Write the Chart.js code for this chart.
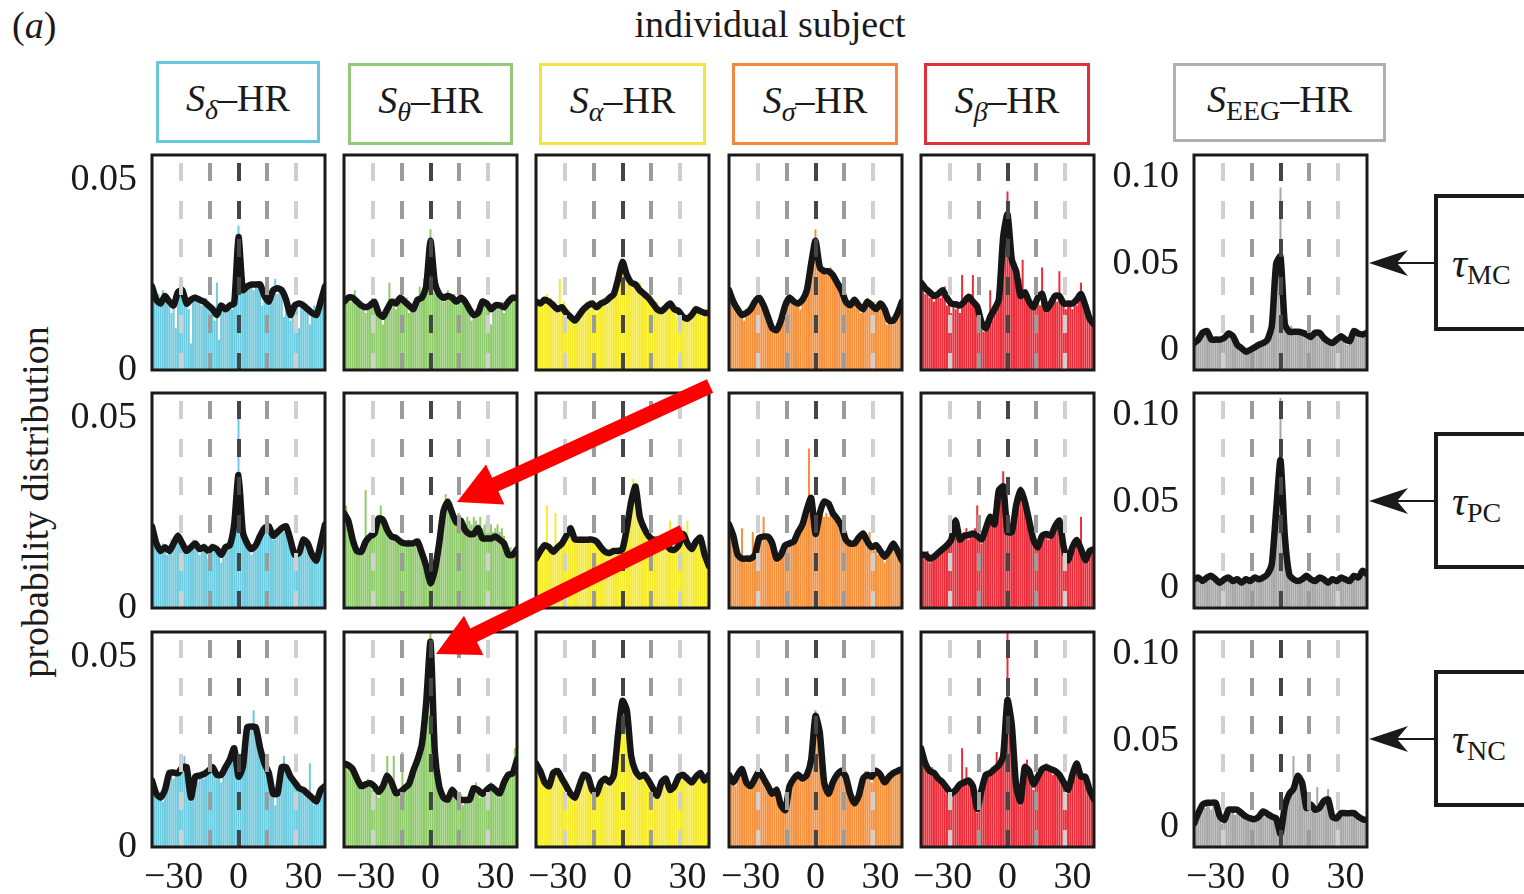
<!DOCTYPE html>
<html><head><meta charset="utf-8">
<script src="https://cdn.jsdelivr.net/npm/chart.js@4.4.0/dist/chart.umd.min.js"></script>
<style>
html,body{margin:0;padding:0;background:#fff;}
body{width:1524px;height:894px;position:relative;overflow:hidden;font-family:'Liberation Serif','Times New Roman',serif;color:#1a1a1a;}
.abs{position:absolute;}
.hbox{position:absolute;box-sizing:border-box;border:3px solid;display:flex;align-items:center;justify-content:center;font-size:38px;line-height:1;padding-bottom:8px;}
.hbox .sub{font-size:28px;position:relative;top:12px;}
.it{font-style:italic;}
.tbox{position:absolute;box-sizing:border-box;border:4px solid #1a1a1a;left:1434px;width:120px;height:137px;font-size:42px;line-height:1;display:flex;align-items:center;padding-left:14px;}
.tbox .sub{font-size:28px;position:relative;top:12px;}
.panel{position:absolute;width:273px;height:270px;}
</style>
</head><body>
<div class="abs" style="left:12px;top:3px;font-size:38px;">(<span class="it">a</span>)</div>
<div class="abs" style="left:570px;top:2px;width:400px;text-align:center;font-size:38px;">individual subject</div>
<div class="abs" style="left:-165px;top:480px;width:400px;height:44px;line-height:44px;text-align:center;font-size:38px;transform:rotate(-90deg);">probability distribution</div>

<div class="hbox" style="left:156px;top:61px;width:164px;height:82px;border-color:#67c7dc;"><span class="it">S</span><span class="sub it">δ</span>–HR</div>
<div class="hbox" style="left:348px;top:63px;width:165px;height:82px;border-color:#93c979;"><span class="it">S</span><span class="sub it">θ</span>–HR</div>
<div class="hbox" style="left:539px;top:63px;width:167px;height:82px;border-color:#f3e43f;"><span class="it">S</span><span class="sub it">α</span>–HR</div>
<div class="hbox" style="left:732px;top:63px;width:166px;height:82px;border-color:#f1883c;"><span class="it">S</span><span class="sub it">σ</span>–HR</div>
<div class="hbox" style="left:924px;top:63px;width:166px;height:82px;border-color:#e2303a;"><span class="it">S</span><span class="sub it">β</span>–HR</div>
<div class="hbox" style="left:1173px;top:63px;width:213px;height:79px;border-color:#b0b0b0;"><span class="it">S</span><span class="sub">EEG</span>–HR</div>

<div class="tbox" style="top:194px;"><span class="it">τ</span><span class="sub">MC</span></div>
<div class="tbox" style="top:432px;"><span class="it">τ</span><span class="sub">PC</span></div>
<div class="tbox" style="top:670px;"><span class="it">τ</span><span class="sub">NC</span></div>

<div id="panels"></div>

<svg class="abs" style="left:0;top:0;z-index:10;pointer-events:none;" width="1524" height="894">
  <g stroke="#1a1a1a" stroke-width="2" fill="#1a1a1a">
    <line x1="1434" y1="263" x2="1395" y2="263"/>
    <path d="M1369,263 L1408,250 L1397,263 L1408,276 Z" stroke="none"/>
    <line x1="1434" y1="501" x2="1395" y2="501"/>
    <path d="M1369,501 L1408,488 L1397,501 L1408,514 Z" stroke="none"/>
    <line x1="1434" y1="739" x2="1395" y2="739"/>
    <path d="M1369,739 L1408,726 L1397,739 L1408,752 Z" stroke="none"/>
  </g>
  <g fill="#ff0000" stroke="#ff0000">
    <line x1="710" y1="386" x2="492" y2="486" stroke-width="15"/>
    <polygon points="457,502 504.4,504.5 486,464.5" stroke="none"/>
    <line x1="683" y1="532" x2="470" y2="637" stroke-width="15"/>
    <polygon points="436,654 483.4,655.1 464,615.7" stroke="none"/>
  </g>
</svg>

<script>
// ---------- axis values ----------
const LAGS = [-40,-39,-38,-37,-36,-35,-34,-33,-32,-31,-30,-29,-28,-27,-26,-25,-24,-23,-22,-21,-20,-19,-18,-17,-16,-15,-14,-13,-12,-11,-10,-9,-8,-7,-6,-5,-4,-3,-2,-1,0,1,2,3,4,5,6,7,8,9,10,11,12,13,14,15,16,17,18,19,20,21,22,23,24,25,26,27,28,29,30,31,32,33,34,35,36,37,38,39,40];
const LINE_LAGS = [-40,-38,-36,-34,-32,-30,-28,-26,-24,-22,-20,-18,-16,-14,-12,-10,-8,-6,-4,-2,0,2,4,6,8,10,12,14,16,18,20,22,24,26,28,30,32,34,36,38,40];
const X_TICKS = [-30, 0, 30];
const MARKER_LAGS = [-26.7, -13.3, 0, 13.3, 26.7];
const Y_TICKS_BAND = [0, 0.05];
const Y_TICKS_EEG = [0, 0.05, 0.10];
const Y_RANGE_BAND = [0, 0.0566];
const Y_RANGE_EEG = [-0.0116, 0.1128];
const UNIT = 0.001; // values below are in units of 1e-3
const BANDS = ['δ','θ','α','σ','β','EEG'];
const CONDITIONS = ['MC','PC','NC'];

// ---------- row MC ----------
const BARS_DELTA_MC = [23,19,18,20,17,21,19,20,18,15,17,11,21,22,20,19,17,16,7,18,20,18,19,17,18,19,17,16,15,13,23,8,17,16,16,17,18,16,18,30,38,25,20,22,21,23,22,21,23,22,23,17,19,18,17,19,21,24,20,22,21,14,18,17,13,16,17,18,11,17,18,16,16,12,15,17,14,16,19,21,24];
const LINE_DELTA_MC = [22,18.5,17.5,19.5,18,17,20.5,21,17.5,18.5,19,18.5,18,17,16,14.5,17,16,17,17.5,35,21,22,22.5,22.5,22.5,19.5,18,21,21.5,21,18.5,14.5,17,17.5,17,16,15,14.5,18,22];
const BARS_THETA_MC = [19,18,20,18,19,21,17,18,16,17,15,17,16,19,18,16,14,15,12,15,17,23,18,19,16,18,20,18,17,19,15,17,16,18,19,22,20,24,23,30,37,26,22,20,21,19,18,20,21,19,18,20,17,19,20,18,17,16,15,13,14,16,15,17,19,18,16,17,12,16,18,17,16,18,15,17,19,18,20,19,21];
const LINE_THETA_MC = [18,19,19,18,17,16.5,17,18,15,14,16,18,17.5,19,18,17,16,18.5,19,22,34,23,20,19,19.5,19,18,19,18,16,14.5,15,18,17.5,16,17,17,16.5,18,19,19];
const BARS_ALPHA_MC = [19,18,17,19,18,20,17,19,16,18,15,24,16,18,14,16,13,14,12,15,14,16,15,18,17,16,18,17,15,18,17,19,18,17,20,19,21,22,25,27,29,26,24,25,22,23,22,21,23,20,21,19,18,20,17,16,18,15,16,15,17,16,18,17,16,14,16,15,13,14,13,15,14,16,17,15,16,14,15,16,29];
const LINE_ALPHA_MC = [18,17.5,18.5,18,17,16,16.5,15,14,13,14.5,16,17,17.5,16.5,17.5,18,19,20,24,28.5,25,23,22.5,21,20,19,17.5,16,15.5,16.5,17.5,16,15.5,14,13.5,14.5,16,15.5,15,15];
const BARS_SIGMA_MC = [22,20,18,17,16,14,15,13,16,15,17,18,19,20,18,19,17,15,14,12,10,11,10,12,14,16,18,19,20,18,19,17,18,16,19,20,22,24,29,31,37,29,27,26,27,25,26,27,25,24,23,22,21,19,18,17,16,18,19,18,17,15,16,17,19,17,16,18,15,17,18,16,15,12,13,14,12,15,16,17,21];
const LINE_SIGMA_MC = [21,18,16,14.5,15,16,18,19,17,14,11,10.5,13,17,19,18,17.5,18.5,21,28,34,27,26,26,25,23,21,18,17,18.5,17,16,18,17,16,17.5,16,13,13,15,18];
const BARS_BETA_MC = [24,22,20,21,19,20,18,19,21,19,20,22,17,18,15,17,16,18,15,25,17,18,19,20,25,17,15,14,12,10,11,13,21,14,16,17,20,27,33,40,47,35,28,26,25,22,24,29,20,19,18,17,16,18,19,17,27,16,15,16,17,18,19,18,26,18,17,16,18,17,16,18,17,19,23,18,16,14,13,12,13];
const LINE_BETA_MC = [23,21.5,20.5,19.5,20,21,19,17.5,17.3,17,18,19.3,18,16.7,12.5,11,14,16,18.5,35,41,29,26,19.5,20.5,18,16.5,19,20,16,17.5,19.5,19.5,17.5,17.5,17.5,18.5,20,17,13.5,12];
const BARS_EEG_MC = [4,5,5,7,9,10,9,7,5,6,5,6,5,7,6,8,9,8,7,5,3,2,1,0,-1,0,-1,1,1,2,3,2,4,5,6,8,12,20,50,56,94,30,12,11,10,14,9,11,10,9,10,8,9,6,7,8,9,10,9,7,6,5,4,3,4,5,6,7,8,6,5,3,5,8,10,9,8,7,8,9,9];
const LINE_EEG_MC = [4,6,10,11,6,6,6,7,9.5,8,3,1,-1,0,1.5,3,4,6,14,50,54,15,10.5,10.5,10.5,10,9,7.5,10,10,7,5,4,6,8,6,5,11,9.5,9,10];

// ---------- row PC ----------
const BARS_DELTA_PC = [22,20,17,16,15,17,16,14,15,18,17,19,20,18,16,17,14,16,15,18,17,16,14,15,17,16,13,15,17,16,15,14,12,15,16,17,16,19,24,30,50,25,19,18,16,15,14,16,17,18,20,21,22,20,21,22,18,19,20,21,22,20,21,19,17,15,13,14,15,17,18,17,16,15,13,12,13,15,17,20,22];
const LINE_DELTA_PC = [21.5,17,15,16,15,17,19,17,15,16,17,15.5,16,15,16,15.5,14,16,16.5,22,35,20,17,15.5,16.5,19,21,21.5,19,20,21,21.5,18,14,14.5,18,17,14,12.5,17,22];
const BARS_THETA_PC = [26,27,24,22,19,16,15,14,16,17,31,19,20,18,19,21,24,27,23,22,21,20,19,18,19,18,17,18,16,17,18,16,17,18,17,15,14,12,10,8,6,9,11,15,19,24,27,30,28,26,25,24,23,25,24,23,22,24,23,22,24,23,22,24,21,22,23,21,22,20,21,22,20,21,19,17,15,16,15,14,25];
const LINE_THETA_PC = [25,23,18,15,14.8,17.5,18.8,19.5,23.6,23.2,20.5,18.8,18.5,17.5,17,17,17,17.5,14.5,11,6.5,10,17,25.5,28,25,22.5,23,20.5,19.5,19.5,21,18.3,18.3,18.3,18.8,18,17,14,14,15.5];
const BARS_ALPHA_PC = [14,15,16,15,17,27,16,15,14,25,16,17,18,17,19,20,22,20,18,17,18,19,18,17,18,19,18,17,18,16,15,16,14,15,14,16,15,14,15,16,17,18,22,26,29,34,31,27,24,22,21,20,19,18,19,18,17,19,18,17,16,17,23,16,15,17,23,18,20,19,23,16,15,17,18,19,18,16,14,12,30];
const LINE_ALPHA_PC = [13,15,16.5,16,14.8,16,17,19,21,18,18,18,18,18,17.5,16,14.8,14.5,15,15,15.5,21,28,32,24,21,19,18,18,18,17,15.5,15.3,16.5,19.5,17,15.5,17.5,18.5,14,11];
const BARS_SIGMA_PC = [30,22,19,17,15,14,21,13,12,14,13,20,14,17,19,18,24,18,19,17,16,14,12,13,14,15,16,17,18,17,19,18,20,21,23,24,26,42,28,24,19,22,24,25,24,25,24,25,24,23,22,21,20,19,18,17,18,16,17,18,19,18,19,17,16,20,15,16,15,14,15,13,12,14,15,16,17,15,14,12,23];
const LINE_SIGMA_PC = [22,19,14,13,13,13,14,18.5,18.8,18.8,17,13,14,16.5,17,17.5,20,22,26,29,19.5,25,28,27.5,25,23.5,21.5,18,17,17,18.5,19.6,17.5,16,16.5,15,13.5,15,17,15,12.5];
const BARS_BETA_PC = [15,14,13,15,12,14,13,15,14,16,15,17,16,18,19,22,24,20,18,19,20,21,18,20,19,21,27,18,17,19,21,22,24,23,22,25,30,32,36,28,19,21,20,24,27,30,32,30,27,24,22,20,18,17,16,18,19,20,19,18,20,19,21,22,23,20,16,13,12,14,16,17,18,16,24,14,12,13,15,16,15];
const LINE_BETA_PC = [14,14,13,13.5,14.5,15.5,16.5,18,23,18,19,19.2,19.6,19,18,21,24,22,31,32,20,20,27,31,28,23,18,16,19,19.5,19,21.5,23,16,12.5,16,17.9,15.5,12.6,15,15.5];
const BARS_EEG_PC = [4,5,5,4,3,5,6,5,6,4,4,3,2,4,5,4,5,3,3,4,5,3,2,3,4,3,4,5,5,4,4,5,6,7,8,10,14,25,48,70,110,50,25,12,7,5,4,4,3,4,5,6,6,5,4,3,4,5,5,4,4,3,3,4,4,3,4,5,5,4,4,3,4,6,6,5,6,8,9,7,7];
const LINE_EEG_PC = [5,6,4,6,7,5,3,5,6,4,5,3,5,4,6,5,6,8,14,45,74,30,8,5,4,5,7,5,4,6,5,3,5,4,6,5,4,7,6,10,8];

// ---------- row NC ----------
const BARS_DELTA_NC = [19,16,14,13,14,12,16,18,20,19,18,20,19,21,22,24,19,14,12,16,18,17,19,20,18,19,20,22,21,20,18,19,17,20,21,22,24,26,23,20,18,19,21,26,30,32,31,36,30,28,25,23,21,20,18,15,13,11,14,18,21,24,21,19,18,17,16,15,17,16,14,15,13,22,12,11,12,13,14,16,24];
const LINE_DELTA_NC = [17.5,14,13,15,19.5,19.6,19.4,21,21,13,18.5,18.8,19.2,20,21,19,19,21,23,26,18.5,21,31.5,31.7,31.5,26,22,19.5,14,14,21,21,18.5,17,15.5,15,14,13,12,15,16];
const BARS_THETA_NC = [23,22,21,22,20,19,18,16,15,17,16,18,17,15,16,14,13,15,17,18,24,18,16,24,14,15,13,25,16,15,17,18,21,22,25,26,28,30,40,50,57,40,27,20,16,14,13,12,14,15,16,14,13,12,14,11,13,12,13,16,15,17,14,13,15,14,16,15,17,16,14,15,13,16,18,17,20,19,21,26,22];
const LINE_THETA_NC = [22,21.5,20.5,18,16,16.5,16.8,16,14.5,16,18.8,17,14.2,14.5,15.5,16.5,20,23,27,38,54,25,16,13,12.5,15,13.5,12.4,12.4,12.4,15.5,15,14,15,15.9,15,14.1,17,19,19.4,23];
const BARS_ALPHA_NC = [23,21,20,18,16,17,15,18,20,21,19,18,17,16,15,14,13,12,13,15,17,18,20,19,17,16,14,13,15,16,18,17,19,16,18,20,22,28,33,37,39,37,33,27,23,21,19,20,18,19,20,18,17,16,15,14,13,16,17,18,17,15,14,15,17,18,19,20,18,19,17,18,16,17,19,20,19,18,17,18,20];
const LINE_ALPHA_NC = [22,20,17,16,19.5,20,18,16,14,13,16,19,18.5,15,14,17,18,17,19,30,38.5,36,24,20,18.5,19,17.5,15.5,13.5,17,18,15,16,18.5,19,18,17,18.5,19.5,17.5,19];
const BARS_SIGMA_NC = [20,18,17,16,18,20,21,19,17,16,15,17,18,19,21,20,18,17,15,16,14,15,16,13,11,10,9,12,15,17,18,19,20,18,17,19,20,22,25,31,36,33,29,22,17,15,14,16,17,18,20,19,21,20,18,16,14,12,11,12,14,16,18,20,19,18,17,19,21,20,19,17,16,18,19,20,19,20,21,20,21];
const LINE_SIGMA_NC = [19,17,19,20.5,17,16,18,20,18,16,14,15,11,9.7,16,18,19,18,19,23,34.5,30,17,14,17,19,20,18.5,14,11.5,13.5,18,19,18.5,20,19,17,18.5,19.5,20,20.5];
const BARS_BETA_NC = [25,23,21,20,19,21,19,18,17,18,16,15,14,13,12,14,15,16,17,26,18,21,17,16,15,12,9,11,15,17,19,20,19,21,20,25,22,23,26,34,58,33,28,20,15,12,11,16,22,23,19,16,15,17,18,19,20,21,22,21,20,19,20,19,18,17,16,15,14,17,20,22,21,19,18,19,18,16,14,13,12];
const LINE_BETA_NC = [26,22,20,19.5,18,17,15.5,14.1,15,16.5,17,17.5,16,10,15,19,19.5,20.5,21.5,24,38.7,32,16,12,21,20,16.5,18.5,20.5,21,20.5,20,19,17,15,19,22,18.5,18.5,15,12.5];
const BARS_EEG_NC = [2,4,6,10,12,11,13,12,10,12,11,7,4,2,4,7,9,8,9,7,8,9,7,6,5,4,5,3,4,5,5,7,8,6,7,5,6,4,3,-2,-6,5,12,16,20,22,41,26,30,28,25,14,11,12,13,11,10,23,9,10,15,14,22,9,5,6,7,6,8,7,8,6,7,8,7,5,6,4,5,4,4];
const LINE_EEG_NC = [2,8,13,14,14,14,6,4,10,10,10,8,6,5,4.5,6,9,7.5,6,5,-4,12,19,22,29.5,25.6,11,13,10,11,15,16,6,5,8,8,8,8,6,4.5,4];

// ---------- layout / style ----------
const COL_LEFT = [152, 344, 536, 729, 921, 1194];
const ROW_TOP = [155, 393, 632];
const BAR_COLORS = ['#6dcbe0', '#8fcb6b', '#f6ea2c', '#f6903a', '#ec2d39', '#a7a7a7'];
const MARKER_COLORS = ['#d0d0d0', '#9c9c9c', '#454545', '#9c9c9c', '#d0d0d0'];

const GRID = [
  [[BARS_DELTA_MC,LINE_DELTA_MC],[BARS_THETA_MC,LINE_THETA_MC],[BARS_ALPHA_MC,LINE_ALPHA_MC],[BARS_SIGMA_MC,LINE_SIGMA_MC],[BARS_BETA_MC,LINE_BETA_MC],[BARS_EEG_MC,LINE_EEG_MC]],
  [[BARS_DELTA_PC,LINE_DELTA_PC],[BARS_THETA_PC,LINE_THETA_PC],[BARS_ALPHA_PC,LINE_ALPHA_PC],[BARS_SIGMA_PC,LINE_SIGMA_PC],[BARS_BETA_PC,LINE_BETA_PC],[BARS_EEG_PC,LINE_EEG_PC]],
  [[BARS_DELTA_NC,LINE_DELTA_NC],[BARS_THETA_NC,LINE_THETA_NC],[BARS_ALPHA_NC,LINE_ALPHA_NC],[BARS_SIGMA_NC,LINE_SIGMA_NC],[BARS_BETA_NC,LINE_BETA_NC],[BARS_EEG_NC,LINE_EEG_NC]]
];

const PAD_L = 90, PAD_T = 10, PAD_R = 10, PAD_B = 45, PW = 173, PH = 215;
const FONT = {family: "'Liberation Serif','Times New Roman',serif", size: 38};

const panelDecor = {
  id: 'panelDecor',
  afterDatasetsDraw(chart) {
    const {ctx, chartArea: a, scales: {x}} = chart;
    ctx.save();
    ctx.beginPath(); ctx.rect(a.left, a.top, a.right - a.left, a.bottom - a.top); ctx.clip();
    ctx.lineWidth = 4;
    ctx.setLineDash([18, 20]);
    MARKER_LAGS.forEach((lag, i) => {
      const px = Math.round(x.getPixelForValue(lag));
      ctx.strokeStyle = MARKER_COLORS[i];
      ctx.beginPath(); ctx.moveTo(px, a.top + 8); ctx.lineTo(px, a.bottom + 2); ctx.stroke();
    });
    ctx.restore();
    ctx.save();
    ctx.lineWidth = 3; ctx.strokeStyle = '#1a1a1a';
    ctx.strokeRect(a.left, a.top, a.right - a.left, a.bottom - a.top);
    ctx.restore();
  }
};

const host = document.getElementById('panels');
GRID.forEach((row, r) => {
  row.forEach(([bars, line], c) => {
    const isEEG = c === 5;
    const yRange = isEEG ? Y_RANGE_EEG : Y_RANGE_BAND;
    const yTicks = isEEG ? Y_TICKS_EEG : Y_TICKS_BAND;
    const div = document.createElement('div');
    div.className = 'panel';
    div.style.left = (COL_LEFT[c] - PAD_L) + 'px';
    div.style.top = (ROW_TOP[r] - PAD_T) + 'px';
    const cv = document.createElement('canvas');
    cv.width = PAD_L + PW + PAD_R; cv.height = PAD_T + PH + PAD_B;
    div.appendChild(cv); host.appendChild(div);
    new Chart(cv, {
      data: {
        datasets: [
          {type: 'line', order: 0, data: LINE_LAGS.map((l, i) => ({x: l, y: line[i] * UNIT})),
           borderColor: '#161616', borderWidth: 6.5, pointRadius: 0, tension: 0.2,
           borderJoinStyle: 'round', borderCapStyle: 'round'},
          {type: 'bar', order: 1, data: LAGS.map((l, i) => ({x: l, y: bars[i] * UNIT})),
           backgroundColor: BAR_COLORS[c], borderWidth: 0, base: yRange[0],
           barPercentage: 0.92, categoryPercentage: 1}
        ]
      },
      options: {
        responsive: false, animation: false, events: [],
        layout: {autoPadding: false, padding: {left: 0, top: PAD_T, right: PAD_R, bottom: 0}},
        plugins: {legend: {display: false}, tooltip: {enabled: false}},
        scales: {
          x: {type: 'linear', min: -40, max: 40, offset: false,
              grid: {display: false, drawTicks: false}, border: {display: false},
              afterBuildTicks: s => { s.ticks = X_TICKS.map(v => ({value: v})); },
              afterFit: s => { s.height = PAD_B; s.paddingLeft = 0; s.paddingRight = 0; },
              ticks: {display: r === 2, autoSkip: false, maxRotation: 0, padding: 8, color: '#1a1a1a', font: FONT,
                      callback: v => v < 0 ? '\u2212' + Math.abs(v) : String(v)}},
          y: {type: 'linear', min: yRange[0], max: yRange[1],
              grid: {display: false, drawTicks: false}, border: {display: false},
              afterBuildTicks: s => { s.ticks = yTicks.map(v => ({value: v})); },
              afterFit: s => { s.width = PAD_L; s.paddingTop = 0; s.paddingBottom = 0; },
              ticks: {display: c === 0 || isEEG, padding: 15, color: '#1a1a1a', font: FONT,
                      callback: v => v === 0 ? '0' : v.toFixed(2)}}
        }
      },
      plugins: [panelDecor]
    });
  });
});
</script>
</body></html>
